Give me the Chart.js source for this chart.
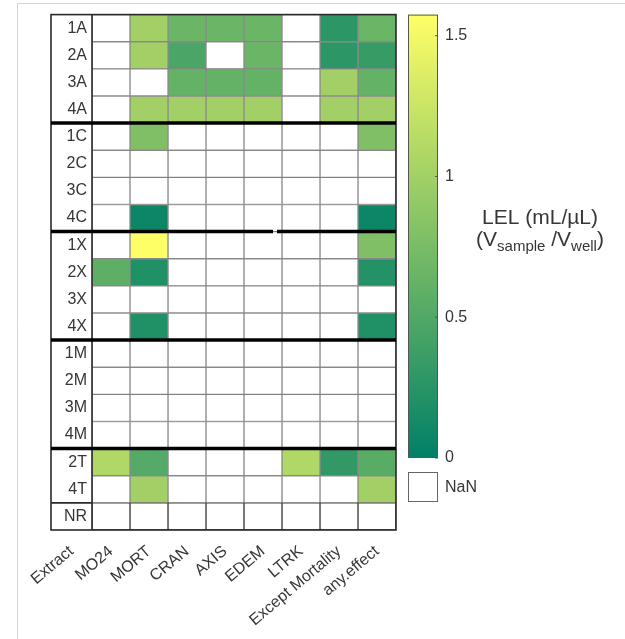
<!DOCTYPE html>
<html>
<head>
<meta charset="utf-8">
<script src="https://cdn.jsdelivr.net/npm/chart.js@4/dist/chart.umd.min.js"></script>
<style>
  html, body { margin: 0; padding: 0; background: #ffffff; }
  #wrap { position: relative; width: 625px; height: 639px; }
  canvas { display: block; }
</style>
</head>
<body>
<div id="wrap"><canvas id="heat" width="625" height="639"></canvas></div>
<script>
// Extract samples (rows) and endpoints (columns)
const rowLabels = ['1A','2A','3A','4A','1C','2C','3C','4C','1X','2X','3X','4X','1M','2M','3M','4M','2T','4T','NR'];
const colLabels = ['MO24','MORT','CRAN','AXIS','EDEM','LTRK','Except Mortality','any.effect'];
const firstLabel = 'Extract';

// LEL values (mL/µL) per endpoint, one entry per extract; null = NaN
const N = null;
const mo24       = [N,    N,    N,    N,    N,    N, N, N,    N,    0.58, N, N,    N, N, N, N, 1.09, N,    N];
const mort       = [1.00, 1.00, N,    1.00, 0.79, N, N, 0.08, 1.57, 0.20, N, 0.20, N, N, N, N, 0.52, 1.00, N];
const cran       = [0.66, 0.46, 0.62, 1.00, N,    N, N, N,    N,    N,    N, N,    N, N, N, N, N,    N,    N];
const axis       = [0.66, N,    0.62, 1.00, N,    N, N, N,    N,    N,    N, N,    N, N, N, N, N,    N,    N];
const edem       = [0.66, 0.66, 0.62, 1.00, N,    N, N, N,    N,    N,    N, N,    N, N, N, N, N,    N,    N];
const ltrk       = [N,    N,    N,    N,    N,    N, N, N,    N,    N,    N, N,    N, N, N, N, 1.09, N,    N];
const exceptMort = [0.28, 0.28, 1.00, 1.00, N,    N, N, N,    N,    N,    N, N,    N, N, N, N, 0.30, N,    N];
const anyEffect  = [0.66, 0.34, 0.62, 1.00, 0.79, N, N, 0.08, 0.79, 0.22, N, 0.20, N, N, N, N, 0.55, 1.00, N];

const columns = [mo24, mort, cran, axis, edem, ltrk, exceptMort, anyEffect];

// colour bar limits and ticks
const cMin = 0;
const cMax = 1.575;
const cTicks = [0, 0.5, 1, 1.5];

// extract groups end after these row indices (thick separators)
const groupEnds = [3, 7, 11, 15];

// "summer" colormap: dark teal-green -> yellow
function summer(v) {
  const t = Math.max(0, Math.min(1, (v - cMin) / (cMax - cMin)));
  const r = Math.round(255 * t);
  const g = Math.round(255 * (0.5 + 0.5 * t));
  const b = Math.round(255 * 0.4);
  return `rgb(${r},${g},${b})`;
}

const TEXT = '#363636';
const FONT = '"Liberation Sans", Arial, sans-serif';
const labelColWidth = 41;
const cellWidth = 38;

const datasets = columns.map((vals, c) => ({
  label: colLabels[c],
  data: rowLabels.map(() => [c, c + 1]),
  backgroundColor: ctx => {
    const v = vals[ctx.dataIndex];
    return v === null ? '#ffffff' : summer(v);
  },
  borderColor: ctx => (rowLabels[ctx.dataIndex] === 'NR' ? '#3c3c3c' : 'rgba(105,105,105,0.75)'),
  borderWidth: 1,
  borderSkipped: false,
  grouped: false,
  barPercentage: 1,
  categoryPercentage: 1
}));

const decor = {
  id: 'decor',
  afterDatasetsDraw(chart) {
    const { ctx, chartArea: a, scales: { y } } = chart;
    const left = a.left - labelColWidth;
    const half = (y.getPixelForValue(1) - y.getPixelForValue(0)) / 2;
    const rowEdge = i => y.getPixelForValue(i) + half;
    ctx.save();

    // outer box and label column
    ctx.strokeStyle = '#2a2a2a';
    ctx.lineWidth = 1.6;
    ctx.strokeRect(left, a.top, a.right - left, a.bottom - a.top);
    ctx.beginPath();
    ctx.moveTo(a.left, a.top); ctx.lineTo(a.left, a.bottom);
    const nrTop = rowEdge(rowLabels.length - 2);
    ctx.moveTo(left, nrTop); ctx.lineTo(a.left, nrTop);
    ctx.stroke();

    // thick separators between extract groups
    ctx.strokeStyle = '#000000';
    ctx.lineWidth = 3.5;
    groupEnds.forEach((r, k) => {
      const yy = rowEdge(r);
      ctx.beginPath();
      if (k === 1) {
        ctx.moveTo(left, yy); ctx.lineTo(273, yy);
        ctx.moveTo(277, yy); ctx.lineTo(a.right, yy);
      } else {
        ctx.moveTo(left, yy); ctx.lineTo(a.right, yy);
      }
      ctx.stroke();
    });

    // colour bar
    const cbL = 408, cbW = 30, cbTop = a.top, cbBot = 458;
    const grad = ctx.createLinearGradient(0, cbBot, 0, cbTop);
    grad.addColorStop(0, summer(cMin));
    grad.addColorStop(1, summer(cMax));
    ctx.fillStyle = grad;
    ctx.fillRect(cbL, cbTop, cbW, cbBot - cbTop);
    ctx.strokeStyle = '#555555';
    ctx.lineWidth = 1;
    ctx.strokeRect(cbL + 0.5, cbTop + 0.5, cbW - 1, cbBot - cbTop - 1);
    const cy = v => cbBot - (v - cMin) / (cMax - cMin) * (cbBot - cbTop);
    ctx.fillStyle = TEXT;
    ctx.font = `16px ${FONT}`;
    ctx.textAlign = 'left';
    ctx.textBaseline = 'middle';
    cTicks.forEach(v => {
      const yy = cy(v);
      ctx.beginPath();
      ctx.moveTo(cbL + cbW - 3, yy); ctx.lineTo(cbL + cbW, yy);
      ctx.stroke();
      ctx.fillText(String(v), cbL + cbW + 7, yy);
    });

    // NaN swatch
    ctx.fillStyle = '#ffffff';
    ctx.fillRect(cbL, 472, cbW, 30);
    ctx.strokeStyle = '#666666';
    ctx.strokeRect(cbL + 0.5, 472.5, cbW - 1, 29);
    ctx.fillStyle = TEXT;
    ctx.fillText('NaN', cbL + cbW + 7, 488);

    // colour bar title
    const cx = 540;
    ctx.textAlign = 'center';
    ctx.textBaseline = 'alphabetic';
    ctx.font = `21px ${FONT}`;
    ctx.fillText('LEL (mL/µL)', cx, 224);
    const parts = [
      ['(V', 21, 0], ['sample', 15, 5], [' /V', 21, 0], ['well', 15, 5], [')', 21, 0]
    ];
    let total = 0;
    parts.forEach(p => { ctx.font = `${p[1]}px ${FONT}`; total += ctx.measureText(p[0]).width; });
    let px = cx - total / 2;
    ctx.textAlign = 'left';
    parts.forEach(p => {
      ctx.font = `${p[1]}px ${FONT}`;
      ctx.fillText(p[0], px, 246 + p[2]);
      px += ctx.measureText(p[0]).width;
    });

    // page frame
    ctx.strokeStyle = '#d4d4d4';
    ctx.lineWidth = 1;
    ctx.beginPath();
    ctx.moveTo(17.5, 639); ctx.lineTo(17.5, 3.5); ctx.lineTo(625, 3.5);
    ctx.stroke();
    ctx.restore();
  }
};

// x ticks: one under the label column, then one per endpoint column
const xTickValues = [-(labelColWidth / cellWidth) / 2].concat(colLabels.map((_, i) => i + 0.5));
const xTickText = [firstLabel].concat(colLabels);

new Chart(document.getElementById('heat'), {
  type: 'bar',
  data: { labels: rowLabels, datasets },
  options: {
    indexAxis: 'y',
    responsive: false,
    animation: false,
    devicePixelRatio: 1,
    layout: { padding: { left: 51, top: 14, right: 229, bottom: 0 } },
    plugins: { legend: { display: false }, tooltip: { enabled: false } },
    scales: {
      x: {
        type: 'linear',
        min: 0,
        max: colLabels.length,
        grid: { display: false, drawTicks: false },
        border: { display: false },
        afterBuildTicks: s => { s.ticks = xTickValues.map(v => ({ value: v })); },
        afterFit: s => { s.height = 109; },
        ticks: {
          autoSkip: false,
          minRotation: 40,
          maxRotation: 40,
          padding: 12,
          color: TEXT,
          font: { family: FONT, size: 16 },
          callback: (v, i) => xTickText[i]
        }
      },
      y: {
        type: 'category',
        offset: true,
        grid: { display: false, drawTicks: false },
        border: { display: false },
        afterFit: s => { s.width = labelColWidth; },
        ticks: {
          padding: 5,
          color: TEXT,
          font: { family: FONT, size: 16 }
        }
      }
    }
  },
  plugins: [decor]
});
</script>
</body>
</html>
